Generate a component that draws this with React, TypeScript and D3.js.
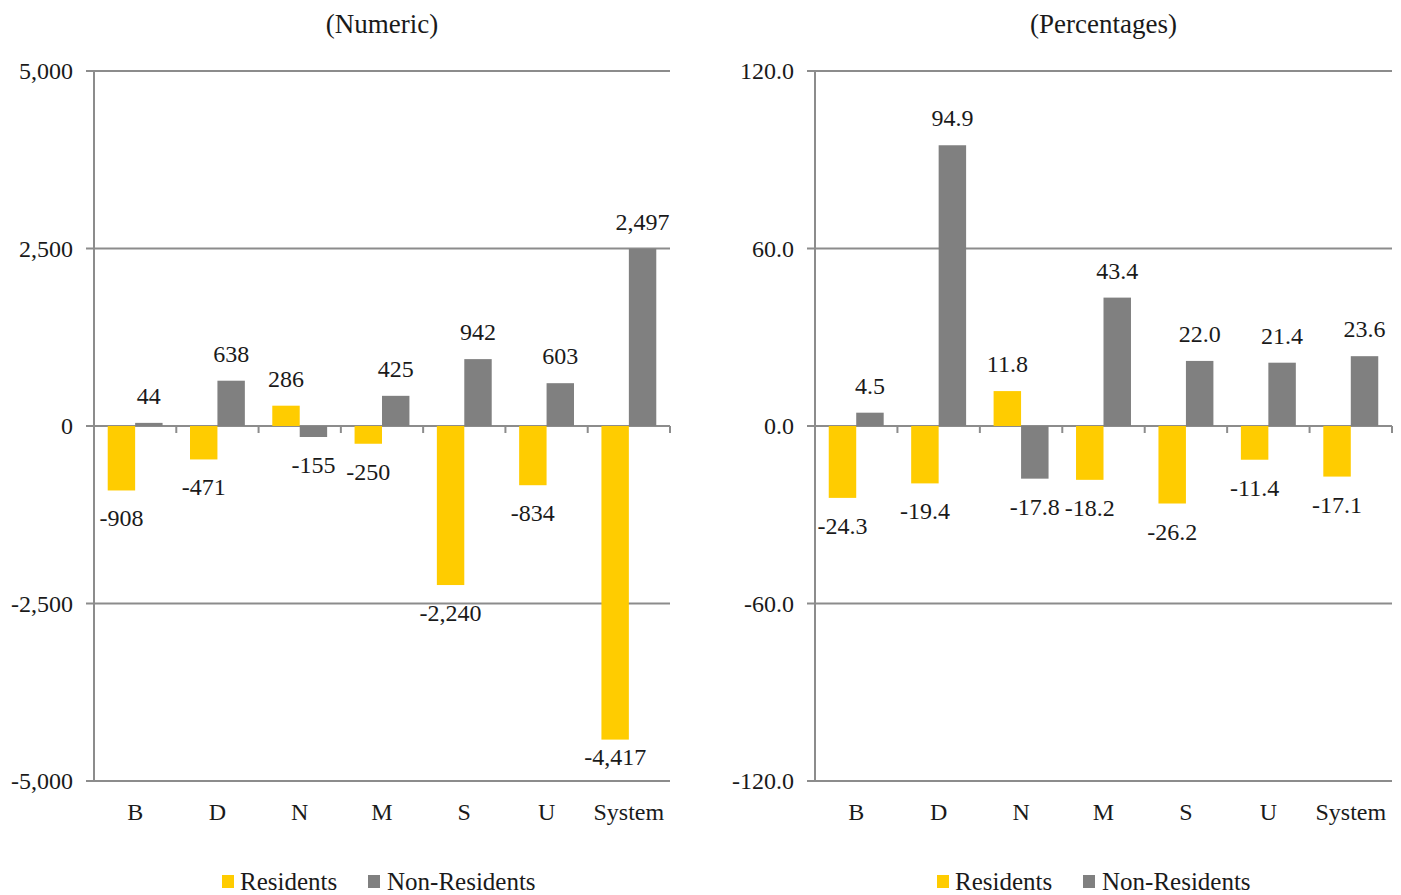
import React from "react";
import * as d3 from "d3";

const categories = ["B", "D", "N", "M", "S", "U", "System"];
const residentsNum = [-908, -471, 286, -250, -2240, -834, -4417];
const nonResidentsNum = [44, 638, -155, 425, 942, 603, 2497];
const residentsPct = [-24.3, -19.4, 11.8, -18.2, -26.2, -11.4, -17.1];
const nonResidentsPct = [4.5, 94.9, -17.8, 43.4, 22.0, 21.4, 23.6];
const numTicks = [5000, 2500, 0, -2500, -5000];
const pctTicks = [120, 60, 0, -60, -120];
const seriesNames = ["Residents", "Non-Residents"];
const colors = ["#FFCC00", "#808080"];

const FONT = "'Liberation Serif', 'DejaVu Serif', serif";
const AXIS = "#8c8c8c";

const hy = (s: string) => s.replace(/\u2212/g, "-");

type PanelProps = {
  x0: number;
  x1: number;
  title: string;
  s1: number[];
  s2: number[];
  ticks: number[];
  tickFmt: (v: number) => string;
  labelFmt: (v: number) => string;
};

function Panel({ x0, x1, title, s1, s2, ticks, tickFmt, labelFmt }: PanelProps) {
  const y = d3.scaleLinear().domain([ticks[ticks.length - 1], ticks[0]]).range([781, 71]);
  const x = d3.scaleBand().domain(categories).range([x0, x1]).paddingInner(0).paddingOuter(0);
  const bw = x.bandwidth() / 3;
  const series = [s1, s2];
  const fs = 24;
  const bottom = y(ticks[ticks.length - 1]);
  return (
    <g fontFamily={FONT} fill="#1a1a1a">
      <text x={(x0 + x1) / 2} y={33} textAnchor="middle" fontSize={27}>{title}</text>
      {ticks.map((t) => (
        <g key={t}>
          <line x1={x0 - 8} x2={x1} y1={y(t)} y2={y(t)} stroke={AXIS} strokeWidth={2} />
          <text x={x0 - 21} y={y(t)} dy="0.35em" textAnchor="end" fontSize={fs}>{hy(tickFmt(t))}</text>
        </g>
      ))}
      <line x1={x0} x2={x0} y1={y(ticks[0])} y2={bottom} stroke={AXIS} strokeWidth={2} />
      {categories.map((c) => (
        <line key={"tk" + c} x1={(x(c) as number) + x.bandwidth()} x2={(x(c) as number) + x.bandwidth()} y1={y(0)} y2={y(0) + 7} stroke={AXIS} strokeWidth={2} />
      ))}
      {categories.map((c) => (
        <text key={"cl" + c} x={(x(c) as number) + x.bandwidth() / 2} y={820} textAnchor="middle" fontSize={fs}>{c}</text>
      ))}
      {series.map((s, si) =>
        s.map((v, i) => {
          const bx = (x(categories[i]) as number) + bw / 2 + si * bw;
          const top = Math.min(y(v), y(0));
          const h = Math.abs(y(v) - y(0));
          const ly = v >= 0 ? y(v) - 19 : Math.min(y(v) + 36, bottom - 16);
          return (
            <g key={si + "-" + i}>
              <rect x={bx} y={top} width={bw} height={h} fill={colors[si]} />
              <text x={bx + bw / 2} y={ly} textAnchor="middle" fontSize={fs}>{hy(labelFmt(v))}</text>
            </g>
          );
        })
      )}
    </g>
  );
}

function Legend({ cx }: { cx: number }) {
  return (
    <g fontFamily={FONT} fontSize={25} fill="#1a1a1a">
      <rect x={cx - 161} y={875} width={12} height={13} fill={colors[0]} />
      <text x={cx - 143} y={890}>{seriesNames[0]}</text>
      <rect x={cx - 15} y={875} width={12} height={13} fill={colors[1]} />
      <text x={cx + 4} y={890}>{seriesNames[1]}</text>
    </g>
  );
}

export default function App() {
  const fmtInt = d3.format(",.0f");
  const fmt1 = d3.format(".1f");
  return (
    <svg width={1401} height={895} style={{ position: "absolute", left: 0, top: 0, background: "#fff" }}>
      <Panel x0={94} x1={670} title="(Numeric)" s1={residentsNum} s2={nonResidentsNum} ticks={numTicks} tickFmt={fmtInt} labelFmt={fmtInt} />
      <Panel x0={815} x1={1392} title="(Percentages)" s1={residentsPct} s2={nonResidentsPct} ticks={pctTicks} tickFmt={fmt1} labelFmt={fmt1} />
      <Legend cx={383} />
      <Legend cx={1098} />
    </svg>
  );
}
